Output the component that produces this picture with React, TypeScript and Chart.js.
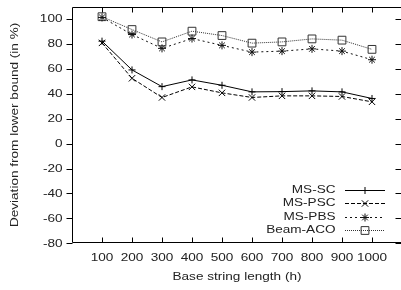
import React, { useEffect, useRef } from 'react';
import { Chart, registerables } from 'chart.js';

Chart.register(...registerables);

const lengths = [100, 200, 300, 400, 500, 600, 700, 800, 900, 1000];
const msSC = [82.2, 59.1, 45.7, 51.1, 46.8, 41.5, 41.7, 42.3, 41.5, 36.2];
const msPSC = [80.8, 52.4, 37.0, 45.5, 40.7, 37.0, 38.3, 38.3, 37.8, 33.5];
const msPBS = [101.2, 87.5, 76.4, 84.3, 78.8, 73.4, 74.2, 76.0, 74.2, 67.3];
const beamACO = [101.8, 91.5, 81.6, 90.2, 86.7, 80.6, 81.6, 84.0, 83.0, 75.6];
const yTickValues = [-80, -60, -40, -20, 0, 20, 40, 60, 80, 100];
const seriesNames = ['MS-SC', 'MS-PSC', 'MS-PBS', 'Beam-ACO'];
const xTitle = 'Base string length (h)';
const yTitle = 'Deviation from lower bound (in %)';

const FONT = '"Liberation Sans", Arial, sans-serif';
const FS = 11.8;
const SX = 1.15;
const TEXT = '#222';

const styles = [
  { dash: [] as number[], point: 'cross', r: 3.5, color: '#000' },
  { dash: [4, 2], point: 'crossRot', r: 4.5, color: '#000' },
  { dash: [2, 3], point: 'star', r: 4, color: '#111' },
  { dash: [1, 1], point: 'rect', r: 5.5, color: '#333' },
];

function drawMarker(ctx: CanvasRenderingContext2D, kind: string, x: number, y: number, r: number) {
  ctx.beginPath();
  if (kind === 'cross') {
    ctx.moveTo(x - r, y); ctx.lineTo(x + r, y);
    ctx.moveTo(x, y - r); ctx.lineTo(x, y + r);
  } else if (kind === 'crossRot') {
    const o = r * Math.SQRT1_2;
    ctx.moveTo(x - o, y - o); ctx.lineTo(x + o, y + o);
    ctx.moveTo(x - o, y + o); ctx.lineTo(x + o, y - o);
  } else if (kind === 'star') {
    const o = r * Math.SQRT1_2;
    ctx.moveTo(x - r, y); ctx.lineTo(x + r, y);
    ctx.moveTo(x, y - r); ctx.lineTo(x, y + r);
    ctx.moveTo(x - o, y - o); ctx.lineTo(x + o, y + o);
    ctx.moveTo(x - o, y + o); ctx.lineTo(x + o, y - o);
  } else if (kind === 'rect') {
    const s = r * Math.SQRT1_2;
    ctx.rect(x - s, y - s, 2 * s, 2 * s);
  }
  ctx.stroke();
}

function text(ctx: CanvasRenderingContext2D, s: string, x: number, y: number, align: CanvasTextAlign, rot = 0) {
  ctx.save();
  ctx.translate(x, y);
  if (rot) ctx.rotate(rot);
  ctx.scale(SX, 1);
  ctx.textAlign = align;
  ctx.textBaseline = 'middle';
  ctx.fillText(s, 0, 0);
  ctx.restore();
}

const framePlugin = {
  id: 'gnuFrame',
  afterDraw(chart: any) {
    const { ctx, chartArea } = chart;
    const { left, right, top, bottom } = chartArea;
    const xs = chart.scales.x;
    const ys = chart.scales.y;
    ctx.save();
    ctx.strokeStyle = '#000';
    ctx.lineWidth = 1;
    ctx.setLineDash([]);
    const L = Math.round(left) + 0.5;
    const T = Math.round(top) + 0.5;
    const B = Math.round(bottom) - 0.5;
    const R = Math.round(right) - 0.5;
    ctx.beginPath();
    ctx.moveTo(L, T); ctx.lineTo(R, T); ctx.lineTo(R, B); ctx.lineTo(L, B); ctx.closePath();
    ctx.stroke();
    const tl = 5;
    ctx.beginPath();
    lengths.forEach((v) => {
      const px = Math.round(xs.getPixelForValue(v)) + 0.5;
      ctx.moveTo(px, B); ctx.lineTo(px, B - tl);
      ctx.moveTo(px, T); ctx.lineTo(px, T + tl);
    });
    yTickValues.forEach((v) => {
      const py = Math.round(ys.getPixelForValue(v)) + 0.5;
      ctx.moveTo(L - 6, py); ctx.lineTo(L, py);
      ctx.moveTo(R, py); ctx.lineTo(R - 6, py);
    });
    ctx.stroke();

    ctx.fillStyle = TEXT;
    ctx.font = `${FS}px ${FONT}`;
    // tick labels
    lengths.forEach((v) => text(ctx, String(v), xs.getPixelForValue(v), 258, 'center'));
    yTickValues.forEach((v) => text(ctx, String(v), 62.5, ys.getPixelForValue(v), 'right'));
    // axis titles
    text(ctx, xTitle, (left + right) / 2, 277, 'center');
    text(ctx, yTitle, 15, (top + bottom) / 2, 'center', -Math.PI / 2);

    // legend
    const rowsY = [189.5, 203, 216.5, 230];
    seriesNames.forEach((name, i) => {
      const y = rowsY[i];
      ctx.fillStyle = TEXT;
      text(ctx, name, 335.5, y, 'right');
      const st = styles[i];
      const ly = Math.round(y) + 0.5;
      ctx.strokeStyle = st.color;
      ctx.lineWidth = 1;
      ctx.setLineDash(st.dash);
      ctx.beginPath();
      ctx.moveTo(345, ly);
      ctx.lineTo(385, ly);
      ctx.stroke();
      ctx.setLineDash([]);
      drawMarker(ctx, st.point, 365, ly, st.r);
    });
    ctx.restore();
  },
};

export default function App() {
  const ref = useRef<HTMLCanvasElement>(null);
  useEffect(() => {
    if (!ref.current) return;
    const series = [msSC, msPSC, msPBS, beamACO];
    const chart = new Chart(ref.current, {
      type: 'line',
      data: {
        datasets: series.map((vals, i) => ({
          label: seriesNames[i],
          data: vals.map((v, j) => ({ x: lengths[j], y: v })),
          borderColor: styles[i].color,
          borderWidth: 1,
          borderDash: styles[i].dash,
          pointStyle: styles[i].point as any,
          pointRadius: styles[i].r,
          pointBorderColor: styles[i].color,
          pointBackgroundColor: 'rgba(0,0,0,0)',
          pointBorderWidth: 1,
          tension: 0,
          fill: false,
        })),
      },
      options: {
        animation: false,
        responsive: false,
        devicePixelRatio: 1,
        layout: { padding: { top: 4.5, right: 8, left: 0, bottom: 0 } },
        plugins: { legend: { display: false }, tooltip: { enabled: false } },
        scales: {
          x: {
            type: 'linear',
            min: 0,
            max: 1100,
            grid: { display: false, drawTicks: false },
            border: { display: false },
            ticks: { display: false, stepSize: 100 },
            afterFit: (s: any) => { s.height = 46.7; s.paddingLeft = 0; s.paddingRight = 0; },
          },
          y: {
            type: 'linear',
            min: -80,
            max: 110,
            grid: { display: false, drawTicks: false },
            border: { display: false },
            ticks: { display: false, stepSize: 20 },
            afterFit: (s: any) => { s.width = 72; s.paddingTop = 0; s.paddingBottom = 0; },
          },
        },
      },
      plugins: [framePlugin],
    });
    return () => chart.destroy();
  }, []);
  return (
    <div style={{ position: 'fixed', left: 0, top: 0, width: 401, height: 290, overflow: 'hidden', background: '#fff' }}>
      <canvas ref={ref} width={410} height={290} style={{ display: 'block' }} />
    </div>
  );
}
